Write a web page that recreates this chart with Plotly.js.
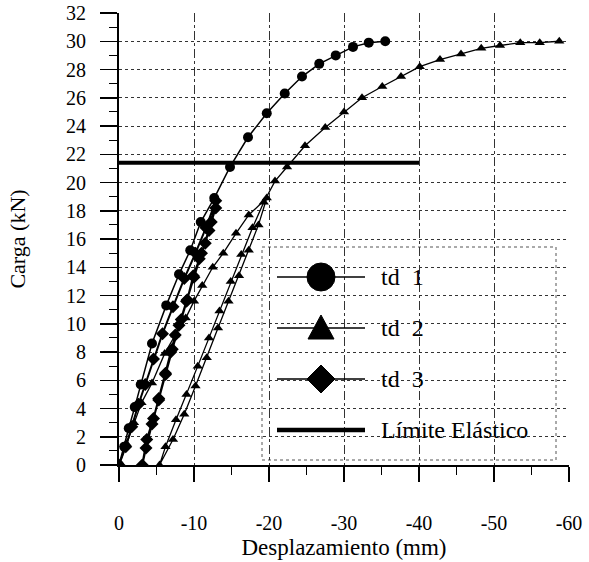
<!DOCTYPE html>
<html>
<head>
<meta charset="utf-8">
<script src="https://cdn.plot.ly/plotly-3.0.1.min.js"></script>
<style>html,body{margin:0;padding:0;background:#fff;}#chart{width:589px;height:562px;}</style>
</head>
<body>
<div id="chart"></div>
<script>
// ---- data ----
const td1_x = [0, -0.7, -1.3, -2.1, -2.9, -4.4, -6.3, -8.0, -9.5, -10.9, -12.7, -14.8, -17.2, -19.7, -22.1, -24.4, -26.7, -28.9, -31.2, -33.3, -35.5];
const td1_y = [0, 1.3, 2.6, 4.1, 5.7, 8.6, 11.3, 13.5, 15.2, 17.2, 18.9, 21.1, 23.2, 24.9, 26.3, 27.5, 28.4, 29.0, 29.6, 29.9, 30.0];

const td2_x = [0, -1.0, -2.0, -3.0, -4.4, -6.1, -7.5, -8.9, -10.0, -11.1, -12.5, -13.9, -15.6, -17.3, -19.7,
               -18.6, -17.3, -16.0, -14.6, -13.2, -11.7, -10.2, -8.7, -7.2, -5.4,
               -6.2, -7.6, -9.0, -10.5, -12.0, -13.4, -14.9, -16.3, -17.8, -19.3, -20.8, -22.4, -24.8, -27.5,
               -30.0, -32.4, -35.1, -37.6, -40.1, -42.8, -45.6, -48.3, -50.8, -53.5, -56.1, -58.7];
const td2_y = [0, 1.5, 3.0, 4.4, 5.8, 7.9, 9.2, 10.4, 11.6, 12.7, 14.0, 15.0, 16.4, 17.7, 18.9,
               17.0, 15.2, 13.4, 11.6, 9.7, 7.6, 5.6, 3.6, 1.8, 0,
               1.3, 3.2, 5.0, 7.0, 9.0, 10.9, 13.0, 14.9, 16.8, 18.6, 20.1, 21.1, 22.6, 23.9,
               25.0, 26.0, 26.8, 27.5, 28.2, 28.7, 29.1, 29.5, 29.7, 29.9, 29.9, 30.0];

const td3_x = [0, -0.9, -1.7, -2.6, -3.5, -4.6, -5.8, -7.2, -8.7, -10.2, -11.6, -12.9,
               -12.3, -11.5, -10.7, -9.9, -9.1, -8.3, -7.5, -6.9, -6.2, -5.3, -4.6, -3.7, -3.1,
               -3.6, -4.4, -5.3, -6.2, -7.1, -8.0, -9.0, -10.0, -11.0, -12.0, -12.9];
const td3_y = [0, 1.3, 2.7, 4.3, 5.7, 7.5, 9.3, 11.2, 13.2, 15.0, 16.8, 18.7,
               17.2, 15.7, 14.6, 13.4, 11.7, 10.3, 9.2, 8.0, 6.5, 4.6, 3.3, 1.8, 0,
               1.2, 2.9, 4.7, 6.4, 8.2, 9.9, 11.6, 13.3, 15.0, 16.6, 18.2];

const limite_x = [0, -40];
const limite_y = [21.4, 21.4];

const xTickVals = [0, -10, -20, -30, -40, -50, -60];
const xTickText = ['0', '-10', '-20', '-30', '-40', '-50', '-60'];
const legendNames = ['td\u00a0 1', 'td\u00a0 2', 'td\u00a0 3', 'L\u00edmite El\u00e1stico'];

// ---- chart ----
const FONT = '"Liberation Serif", "Times New Roman", serif';
const traces = [
  {x: td3_x, y: td3_y, mode: 'lines+markers', line: {color: '#000', width: 2},
   marker: {symbol: 'diamond', size: 10, color: '#000'}, showlegend: false},
  {x: td2_x, y: td2_y, mode: 'lines+markers', line: {color: '#000', width: 1.3},
   marker: {symbol: 'triangle-up', size: 9, color: '#000'}, showlegend: false},
  {x: td1_x, y: td1_y, mode: 'lines+markers', line: {color: '#000', width: 1.5},
   marker: {symbol: 'circle', size: 10, color: '#000'}, showlegend: false},
  {x: limite_x, y: limite_y, mode: 'lines', line: {color: '#000', width: 4}, showlegend: false}
];

// manual legend (paper coords computed from pixel positions of the plot area)
const L = 119, T = 13, W = 450, H = 452;
const px = v => (v - L) / W;
const py = v => (T + H - v) / H;
const rows = [277, 328, 379, 430];
const shapes = [
  {type: 'rect', xref: 'paper', yref: 'paper', x0: px(262), x1: px(556), y0: py(460), y1: py(247),
   fillcolor: '#fff', line: {color: '#555', width: 1, dash: 'dot'}, layer: 'between'}
];
rows.forEach((r, i) => {
  shapes.push({type: 'line', xref: 'paper', yref: 'paper', x0: px(277), x1: px(365), y0: py(r), y1: py(r),
    line: {color: '#000', width: i === 3 ? 4.5 : 1.5}, layer: 'above'});
});
const cx = 321;
shapes.push({type: 'circle', xref: 'paper', yref: 'paper', x0: px(cx - 14), x1: px(cx + 14), y0: py(rows[0] + 14), y1: py(rows[0] - 14),
  fillcolor: '#000', line: {color: '#000', width: 1}, layer: 'above'});
shapes.push({type: 'path', xref: 'paper', yref: 'paper',
  path: `M ${px(cx - 13)} ${py(rows[1] + 11)} L ${px(cx + 13)} ${py(rows[1] + 11)} L ${px(cx)} ${py(rows[1] - 13)} Z`,
  fillcolor: '#000', line: {color: '#000', width: 1}, layer: 'above'});
shapes.push({type: 'path', xref: 'paper', yref: 'paper',
  path: `M ${px(cx - 14)} ${py(rows[2])} L ${px(cx)} ${py(rows[2] - 14)} L ${px(cx + 14)} ${py(rows[2])} L ${px(cx)} ${py(rows[2] + 14)} Z`,
  fillcolor: '#000', line: {color: '#000', width: 1}, layer: 'above'});
const annotations = rows.map((r, i) => ({
  xref: 'paper', yref: 'paper', x: px(379), y: py(r), xanchor: 'left', yanchor: 'middle',
  text: legendNames[i], showarrow: false, font: {family: FONT, size: 24, color: '#000'}
}));

const layout = {
  width: 589, height: 562,
  margin: {l: L, r: 589 - L - W, t: T, b: 562 - T - H},
  paper_bgcolor: '#fff', plot_bgcolor: '#fff',
  font: {family: FONT, size: 20, color: '#000'},
  showlegend: false,
  xaxis: {
    range: [0, -60], tickmode: 'array', tickvals: xTickVals, ticktext: xTickText,
    ticks: 'outside', ticklen: 15, tickwidth: 1.5, tickcolor: '#000',
    ticklabelstandoff: 24, tickfont: {family: FONT, size: 20},
    minor: {dtick: 5, tick0: 0, ticks: 'outside', ticklen: 8, tickwidth: 1.2, tickcolor: '#000', showgrid: false},
    showline: true, linecolor: '#000', linewidth: 2, zeroline: false,
    showgrid: true, gridcolor: '#333', gridwidth: 1, griddash: 'dashdot',
    title: {text: 'Desplazamiento (mm)', font: {family: FONT, size: 23}, standoff: 6},
    automargin: false, fixedrange: true
  },
  yaxis: {
    range: [0, 32], dtick: 2, tick0: 0,
    ticks: 'outside', ticklen: 17, tickwidth: 1.5, tickcolor: '#000',
    ticklabelstandoff: 10, tickfont: {family: FONT, size: 20},
    minor: {dtick: 1, ticks: 'outside', ticklen: 8, tickwidth: 1.2, tickcolor: '#000', showgrid: false},
    showline: true, linecolor: '#000', linewidth: 2, zeroline: false,
    showgrid: true, gridcolor: '#333', gridwidth: 1, griddash: 'dot',
    title: {text: 'Carga (kN)', font: {family: FONT, size: 22}, standoff: 34},
    automargin: false, fixedrange: true
  },
  shapes: shapes,
  annotations: annotations
};

Plotly.newPlot('chart', traces, layout, {displayModeBar: false, staticPlot: true});
</script>
</body>
</html>
